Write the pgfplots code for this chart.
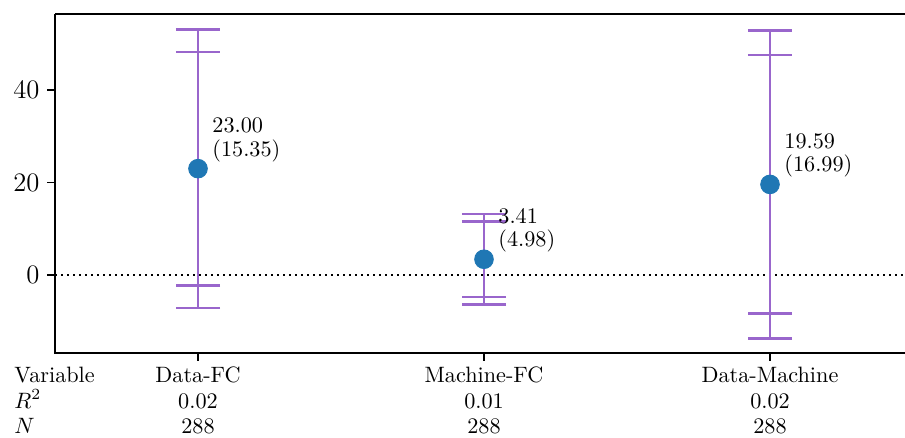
\documentclass[border=0pt]{standalone}
\usepackage{pgfplots}
\usepackage{pgfplotstable}
\pgfplotsset{compat=1.18}

\definecolor{cipurple}{RGB}{153,102,204}
\definecolor{ptblue}{RGB}{31,119,180}

% coefficient, standard error, half-widths of the 95% and 90% intervals
\pgfplotstableread{
x  mean   se     ci95   ci90
0  23.00  15.35  30.09  25.25
1  3.41   4.98   9.76   8.19
2  19.59  16.99  33.30  27.95
}\coefdata

\begin{document}
\begin{tikzpicture}
\path[use as bounding box] (-24.75pt,-37.8pt) rectangle (382.5pt,158.85pt);
\begin{axis}[
  at={(0,0)}, anchor=south west,
  scale only axis, width=383.85pt, height=152.55pt,
  xmin=-0.5, xmax=2.4825, ymin=-16.86, ymax=56.43,
  axis line style={draw=none},
  tick align=outside, tick pos=left,
  major tick length=3.5pt,
  tick style={black, line width=0.7pt},
  xtick={0,1,2}, xticklabels={},
  ytick={0,20,40},
  clip=false,
  font=\fontsize{10}{12}\selectfont,
  ticklabel style={font=\fontsize{11.5}{13}\selectfont},
]
% zero reference line
\addplot[black, dotted, line width=0.7pt, forget plot] coordinates {(-0.5,0) (2.4825,0)};

% 95% intervals
\addplot[draw=none, mark=none, forget plot,
  error bars/.cd, y dir=both, y explicit,
  error bar style={cipurple, line width=1.1pt},
  error mark options={cipurple, rotate=90, mark size=10pt, line width=1.1pt}]
  table[x=x, y=mean, y error=ci95]{\coefdata};
% 90% intervals
\addplot[draw=none, mark=none, forget plot,
  error bars/.cd, y dir=both, y explicit,
  error bar style={cipurple, line width=1.1pt},
  error mark options={cipurple, rotate=90, mark size=10pt, line width=1.1pt}]
  table[x=x, y=mean, y error=ci90]{\coefdata};
% point estimates
\addplot[only marks, mark=*, mark size=4.2pt,
  mark options={draw=ptblue, fill=ptblue}]
  table[x=x, y=mean]{\coefdata};

% estimate and standard error labels
\begin{scope}[every node/.style={inner sep=0pt, anchor=base west}]
\node at ([xshift=6.3pt, yshift=16.2pt]axis cs:0,23.00) {23.00};
\node at ([xshift=6.3pt, yshift=5.6pt]axis cs:0,23.00) {(15.35)};
\node at ([xshift=6.3pt, yshift=16.2pt]axis cs:1,3.41) {3.41};
\node at ([xshift=6.3pt, yshift=5.6pt]axis cs:1,3.41) {(4.98)};
\node at ([xshift=6.3pt, yshift=16.2pt]axis cs:2,19.59) {19.59};
\node at ([xshift=6.3pt, yshift=5.6pt]axis cs:2,19.59) {(16.99)};
\end{scope}

% spines (left, bottom, top)
\draw[black, line width=1pt] (rel axis cs:0,1) -- (rel axis cs:0,0) -- (rel axis cs:1,0);
\draw[black, line width=1pt] (rel axis cs:0,1) -- (rel axis cs:1,1);

% summary rows below the axis
\begin{scope}[every node/.style={inner sep=0pt, anchor=base west}]
\node at ([xshift=-18.45pt, yshift=-13.05pt]rel axis cs:0,0) {Variable};
\node at ([xshift=-18.45pt, yshift=-24.75pt]rel axis cs:0,0) {$R^2$};
\node at ([xshift=-18.45pt, yshift=-36pt]rel axis cs:0,0) {$N$};
\end{scope}

\begin{scope}[every node/.style={inner sep=0pt, anchor=base}]
\node at ([yshift=-13.05pt]axis cs:0,-16.86) {Data-FC};
\node at ([yshift=-24.75pt]axis cs:0,-16.86) {0.02};
\node at ([yshift=-36pt]axis cs:0,-16.86) {288};
\node at ([yshift=-13.05pt]axis cs:1,-16.86) {Machine-FC};
\node at ([yshift=-24.75pt]axis cs:1,-16.86) {0.01};
\node at ([yshift=-36pt]axis cs:1,-16.86) {288};
\node at ([yshift=-13.05pt]axis cs:2,-16.86) {Data-Machine};
\node at ([yshift=-24.75pt]axis cs:2,-16.86) {0.02};
\node at ([yshift=-36pt]axis cs:2,-16.86) {288};
\end{scope}
\end{axis}
\end{tikzpicture}
\end{document}
